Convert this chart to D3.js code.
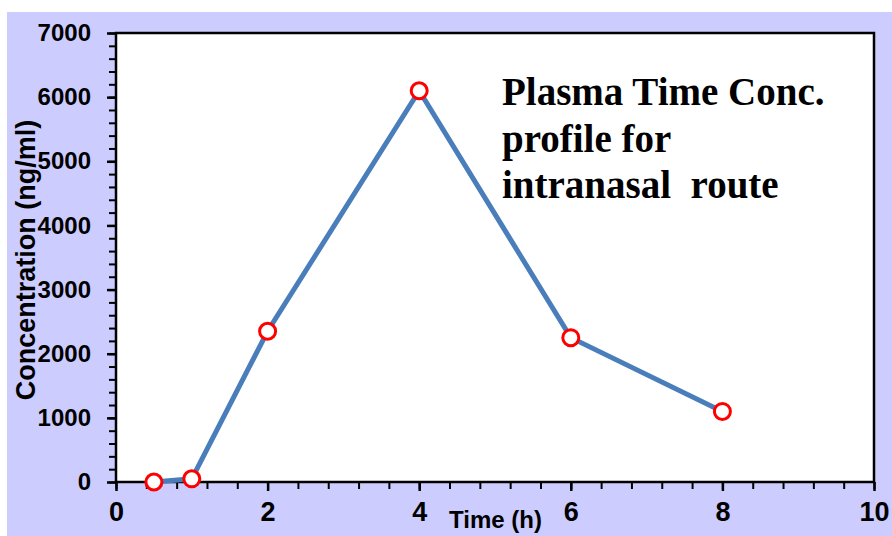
<!DOCTYPE html>
<html>
<head>
<meta charset="utf-8">
<script src="https://cdn.jsdelivr.net/npm/d3@7"></script>
<style>
  body { margin: 0; background: #fff; }
  svg { display: block; }
</style>
</head>
<body>
<script>
// data
const times = [0.5, 1, 2, 4, 6, 8];
const conc = [0, 50, 2350, 6100, 2250, 1100];
const xTicks = [0, 2, 4, 6, 8, 10];
const yTicks = [0, 1000, 2000, 3000, 4000, 5000, 6000, 7000];
const titleLines = ["Plasma Time Conc.", "profile for", "intranasal  route"];

const data = times.map((t, i) => ({ t: t, c: conc[i] }));

const width = 892;
const height = 536;

const svg = d3.select("body")
    .append("svg")
    .attr("width", width)
    .attr("height", height);

// lavender backdrop
svg.append("rect")
    .attr("x", 7)
    .attr("y", 12)
    .attr("width", width - 7)
    .attr("height", height - 12)
    .attr("fill", "#ccccff");

// Scales
const x = d3.scaleLinear().domain([0, 10]).range([116, 874]);
const y = d3.scaleLinear().domain([0, 7000]).range([482, 33]);

// plot area
svg.append("rect")
    .attr("x", x(0))
    .attr("y", y(7000))
    .attr("width", x(10) - x(0))
    .attr("height", y(0) - y(7000))
    .attr("fill", "#fff")
    .attr("stroke", "#000")
    .attr("stroke-width", 2.5);

// minor ticks
svg.append("g")
    .attr("transform", `translate(0,${y(0)})`)
    .call(d3.axisBottom(x).tickValues(d3.range(0, 10.01, 0.4)).tickSize(7).tickFormat(""))
    .call(g => g.select(".domain").remove())
    .selectAll("line").attr("stroke-width", 2);

svg.append("g")
    .attr("transform", `translate(${x(0)},0)`)
    .call(d3.axisLeft(y).tickValues(d3.range(0, 7001, 200)).tickSize(7).tickFormat(""))
    .call(g => g.select(".domain").remove())
    .selectAll("line").attr("stroke-width", 2);

// major axes
svg.append("g")
    .attr("transform", `translate(0,${y(0)})`)
    .call(d3.axisBottom(x).tickValues(xTicks).tickSize(9).tickPadding(11).tickFormat(d3.format("d")))
    .call(g => g.select(".domain").remove())
    .call(g => g.selectAll("line").attr("stroke-width", 2.5))
    .call(g => g.selectAll("text")
        .attr("fill", "#000")
        .attr("font-family", "Arial, 'Liberation Sans', sans-serif")
        .attr("font-weight", "bold")
        .attr("font-size", 27));

svg.append("g")
    .attr("transform", `translate(${x(0)},0)`)
    .call(d3.axisLeft(y).tickValues(yTicks).tickSize(9).tickPadding(16).tickFormat(d3.format("d")))
    .call(g => g.select(".domain").remove())
    .call(g => g.selectAll("line").attr("stroke-width", 2.5))
    .call(g => g.selectAll("text")
        .attr("fill", "#000")
        .attr("font-family", "Arial, 'Liberation Sans', sans-serif")
        .attr("font-weight", "bold")
        .attr("font-size", 24));

// axis titles
svg.append("text")
    .attr("x", 449)
    .attr("y", 528)
    .attr("font-family", "Arial, 'Liberation Sans', sans-serif")
    .attr("font-weight", "bold")
    .attr("font-size", 24)
    .text("Time (h)");

svg.append("text")
    .attr("transform", "translate(35,260) rotate(-90)")
    .attr("text-anchor", "middle")
    .attr("font-family", "Arial, 'Liberation Sans', sans-serif")
    .attr("font-weight", "bold")
    .attr("font-size", 27)
    .text("Concentration (ng/ml)");

// line and markers
svg.append("path")
    .datum(data)
    .attr("fill", "none")
    .attr("stroke", "#4a7ebb")
    .attr("stroke-width", 5)
    .attr("d", d3.line().x(d => x(d.t)).y(d => y(d.c)));

svg.selectAll("circle")
    .data(data)
    .join("circle")
    .attr("cx", d => x(d.t))
    .attr("cy", d => y(d.c))
    .attr("r", 8)
    .attr("fill", "#fff")
    .attr("stroke", "#ff0000")
    .attr("stroke-width", 3);

// annotation
svg.append("text")
    .attr("font-family", "'Times New Roman', 'Liberation Serif', serif")
    .attr("font-weight", "bold")
    .attr("font-size", 39)
    .selectAll("tspan")
    .data(titleLines)
    .join("tspan")
    .attr("x", 502)
    .attr("y", (d, i) => 105 + i * 46.5)
    .attr("xml:space", "preserve")
    .style("white-space", "pre")
    .text(d => d);
</script>
</body>
</html>
